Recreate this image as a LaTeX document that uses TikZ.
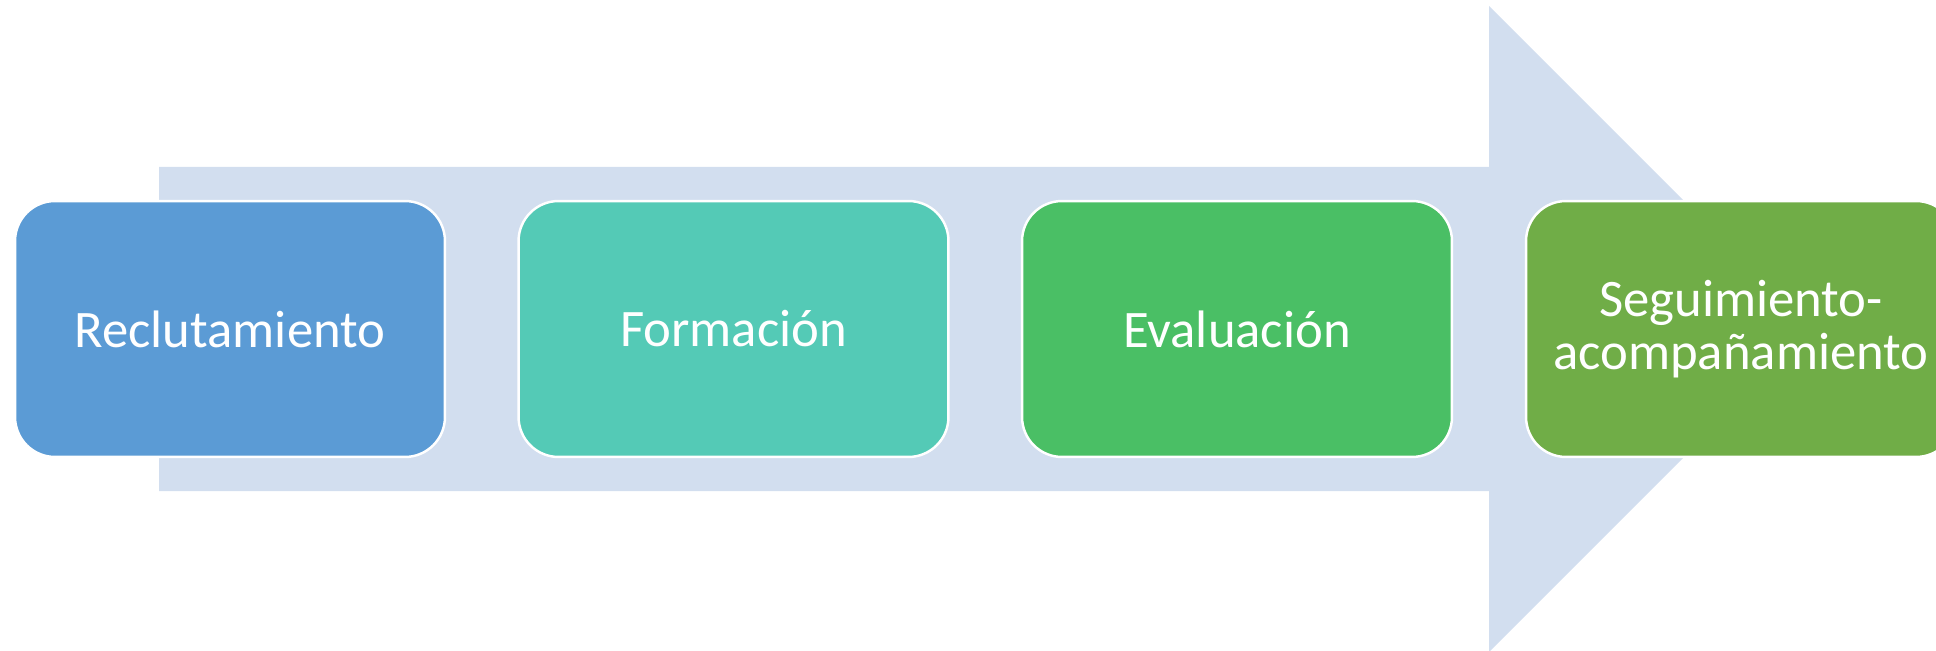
\documentclass[tikz,border=0pt]{standalone}
\usepackage{fontspec}
\setmainfont{Carlito}
\definecolor{arrowbg}{RGB}{210,222,239}
\definecolor{stageA}{RGB}{91,155,213}
\definecolor{stageB}{RGB}{84,202,182}
\definecolor{stageC}{RGB}{74,191,101}
\definecolor{stageD}{RGB}{112,173,71}
\begin{document}
\begin{tikzpicture}[x=0.02cm, y=-0.02cm,
  stage/.style={rectangle, rounded corners=0.8cm, draw=white, line width=1.4pt,
    minimum width=8.6cm, minimum height=5.12cm, inner sep=0pt,
    text=white, align=center, font=\fontsize{30}{30.2}\selectfont}]
\useasboundingbox (0,0) rectangle (1936,651);
\clip (0,0) rectangle (1936,651);
% big arrow behind the stages
\fill[arrowbg] (159,167) -- (1489,167) -- (1489,6) -- (1812,329) -- (1489,652) -- (1489,491) -- (159,491) -- cycle;
\node[stage, fill=stageA] (recl) at (230,329){Reclutamiento};
\node[stage, fill=stageB] (form) at (733.5,329){Formación};
\node[stage, fill=stageC] (eval) at (1237,329){Evaluación};
\node[stage, fill=stageD] (segu) at (1741,329){Seguimiento-\\acompañamiento};
\end{tikzpicture}
\end{document}
